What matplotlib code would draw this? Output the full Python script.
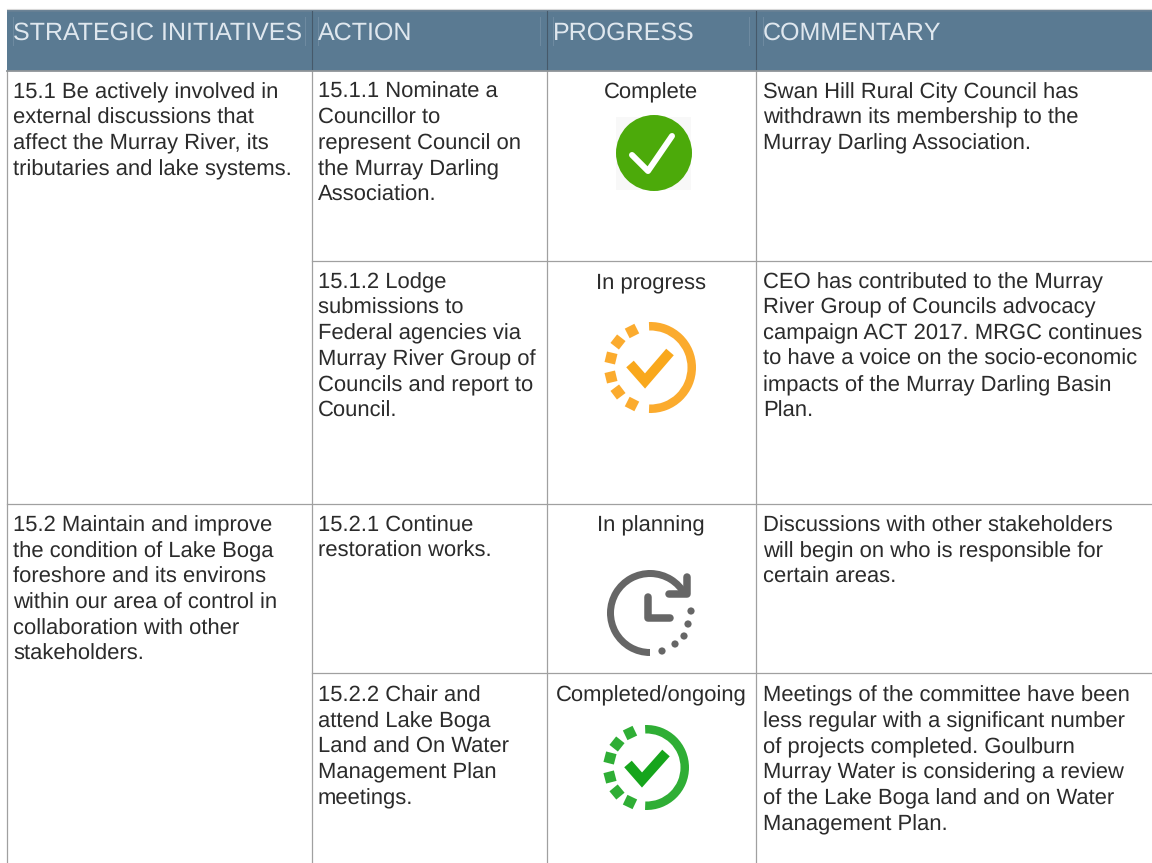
#!/usr/bin/env python3
"""
Strategic initiatives progress table, drawn in pixel coordinates
"""

import numpy as np
import matplotlib
matplotlib.use('Agg')
import matplotlib.pyplot as plt
from matplotlib.patches import Circle, Rectangle, RegularPolygon, Wedge

plt.rcParams['font.family'] = ['Liberation Sans', 'DejaVu Sans']
plt.rcParams['text.hinting'] = 'none'
plt.rcParams['text.hinting_factor'] = 1

# Table content
headers = ['STRATEGIC INITIATIVES', 'ACTION', 'PROGRESS', 'COMMENTARY']
initiatives = [
    ['15.1 Be actively involved in', 'external discussions that',
     'affect the Murray River, its', 'tributaries and lake systems.'],
    ['15.2 Maintain and improve', 'the condition of Lake Boga',
     'foreshore and its environs', 'within our area of control in',
     'collaboration with other', 'stakeholders.'],
]
actions = [
    ['15.1.1 Nominate a', 'Councillor to', 'represent Council on',
     'the Murray Darling', 'Association.'],
    ['15.1.2 Lodge', 'submissions to', 'Federal agencies via',
     'Murray River Group of', 'Councils and report to', 'Council.'],
    ['15.2.1 Continue', 'restoration works.'],
    ['15.2.2 Chair and', 'attend Lake Boga', 'Land and On Water',
     'Management Plan', 'meetings.'],
]
progress = ['Complete', 'In progress', 'In planning', 'Completed/ongoing']
commentary = [
    ['Swan Hill Rural City Council has', 'withdrawn its membership to the',
     'Murray Darling Association.'],
    ['CEO has contributed to the Murray', 'River Group of Councils advocacy',
     'campaign ACT 2017. MRGC continues', 'to have a voice on the socio-economic',
     'impacts of the Murray Darling Basin', 'Plan.'],
    ['Discussions with other stakeholders', 'will begin on who is responsible for',
     'certain areas.'],
    ['Meetings of the committee have been', 'less regular with a significant number',
     'of projects completed. Goulburn', 'Murray Water is considering a review',
     'of the Lake Boga land and on Water', 'Management Plan.'],
]

# Layout in pixels
W, H = 1152, 863
col_x = [7, 312, 547, 756]
text_x = [13, 318, 651, 763]
initiative_base = [98, 531.5]
row_base = [98, 288, 531.5, 701.5]
line_h = 25.75
FS = 16.2
INK = '#2b2b2b'
GRID = '#a0a0a0'
HEAD = '#5a7a92'

fig = plt.figure(figsize=(W / 100, H / 100), dpi=100, facecolor='white')
ax = fig.add_axes([0, 0, 1, 1])
ax.set_xlim(0, W)
ax.set_ylim(H, 0)
ax.axis('off')


def block(x, y, lines, **kw):
    for i, s in enumerate(lines):
        ax.text(x, y + i * line_h, s, fontsize=FS, color=INK, va='baseline', **kw)


def stroke(xs, ys, color, px, cap='round', join='round'):
    ax.plot(xs, ys, color=color, lw=px * 0.72, solid_capstyle=cap, solid_joinstyle=join)


def dotted_check(cx, cy, r, color, check_color, squares, check):
    # half ring on the right, small squares on the left, tick in the middle
    ax.add_patch(Wedge((cx, cy), r, -92, 92, width=8.5, color=color, lw=0))
    for sx, sy in squares:
        ax.add_patch(RegularPolygon((sx, sy), 4, radius=7.6, color=color, lw=0,
                                    orientation=np.arctan2(sy - cy, sx - cx) + np.pi / 4))
    stroke(check[0], check[1], check_color, 10, cap='butt', join='miter')


# Header band
ax.add_patch(Rectangle((7, 10), W - 7, 61, color=HEAD, lw=0))
ax.add_patch(Rectangle((7, 10), W - 7, 2, color='#667f93', lw=0))
ax.plot([7, W], [9.5, 9.5], color='#d8d8d8', lw=0.8)
for x in [13, 305, 318, 540, 553, 749, 763]:
    ax.plot([x, x], [17, 45], color='#6f8ba1', lw=0.7)
for x in [312, 547, 756]:
    ax.plot([x, x], [11, 71], color='#46596a', lw=0.8)
for x, s in zip([13, 318, 553, 763], headers):
    ax.text(x, 39.5, s, fontsize=17.95, color='#dfe7ee', va='baseline')

# Grid
for x in col_x:
    ax.plot([x, x], [71, H], color=GRID, lw=0.9)
ax.plot([7, W], [71, 71], color='#8f9498', lw=1.3)
ax.plot([7, W], [504, 504], color=GRID, lw=0.9)
ax.plot([312, W], [261, 261], color=GRID, lw=0.9)
ax.plot([312, W], [673, 673], color=GRID, lw=0.9)

# Cell text
for y, lines in zip(initiative_base, initiatives):
    block(text_x[0], y, lines)
for y, lines in zip(row_base, actions):
    block(text_x[1], y, lines)
for y, s in zip(row_base, progress):
    ax.text(text_x[2], y, s, fontsize=FS, color=INK, va='baseline', ha='center')
for y, lines in zip(row_base, commentary):
    block(text_x[3], y, lines)

# Complete icon
ax.add_patch(Rectangle((616, 117), 75, 73, color='#f8f8f8', lw=0))
ax.add_patch(Circle((654, 153), 38, color='#4caa0a', lw=0))
stroke([632, 648, 672], [155, 171, 136], 'white', 6)

# In progress icon
dotted_check(650.5, 367.5, 45.5, '#fbab2e', '#f9a81c',
             [(632, 331), (618, 342), (611, 358), (611, 377), (618, 392), (632, 404)],
             ([630, 645, 670], [364, 381, 352]))

# In planning icon
GREY = '#666666'
ax.add_patch(Wedge((650, 613), 43, 90, 332, width=7, color=GREY, lw=0))
stroke([669, 687, 687], [594, 594, 577], GREY, 7.5)
stroke([648, 648, 670], [597, 618, 618], GREY, 7.5)
for dx, dy in [(691, 611), (688, 624), (684, 636), (675, 644), (662, 651)]:
    ax.add_patch(Circle((dx, dy), 3.6, color=GREY, lw=0))

# Completed/ongoing icon
dotted_check(646.5, 767.5, 42.5, '#2fae35', '#16a51c',
             [(630, 733), (617, 744), (610, 758), (610, 777), (617, 792), (630, 802)],
             ([628, 642, 666], [764, 780, 753]))

plt.savefig('out.png', dpi=100, facecolor='white')
